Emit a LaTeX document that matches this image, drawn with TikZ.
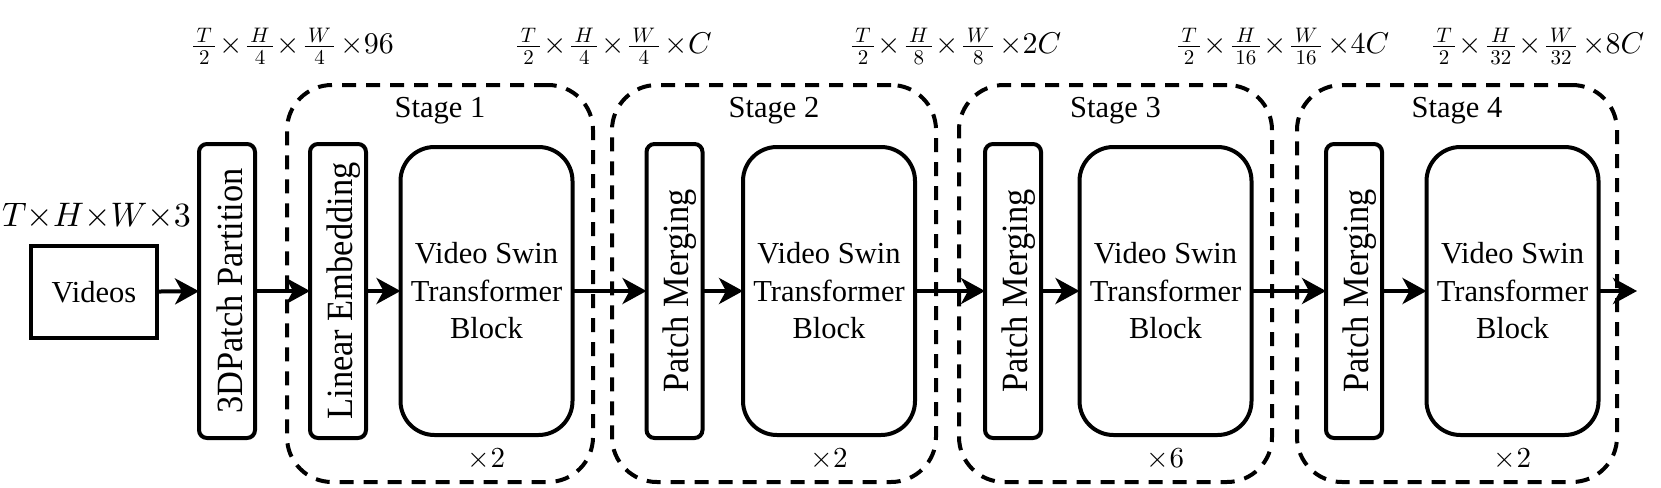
\documentclass[tikz,border=0pt]{standalone}
\usepackage[no-math]{fontspec}
\setmainfont{Liberation Serif}
\DeclareFontShape{OML}{cmm}{m}{it}{<->cmmi10}{}
\DeclareFontShape{OMS}{cmsy}{m}{n}{<->cmsy10}{}
\DeclareFontShape{OT1}{cmr}{m}{n}{<->cmr10}{}
\usetikzlibrary{arrows.meta}
\newcommand\fr[2]{\frac{\,#1\,}{\,#2\,}}
\newcommand\tm{\mskip1.5mu{\times}\mskip2mu}
\newcommand\tl{\mskip3mu{\times}}
\begin{document}
\begin{tikzpicture}[x=1pt,y=-1pt,
 every node/.style={font=\fontsize{30.5}{37.5}\selectfont},
 plain/.style={draw, line width=4pt, inner sep=0pt, outer sep=0pt},
 thinbox/.style={plain, rounded corners=8pt, minimum width=56pt, minimum height=294pt},
 rottext/.style={rotate=90, anchor=base, inner sep=0pt, font=\fontsize{37}{42}\selectfont},
 block/.style={plain, rounded corners=34pt, minimum width=172pt, minimum height=288pt, align=center},
 stagebox/.style={draw, line width=4pt, dash pattern=on 14pt off 10pt, rounded corners=45pt, inner sep=0pt, outer sep=0pt},
 arr/.style={line width=4pt, -{Stealth[length=24pt,width=26pt,inset=7pt]}},
 dimlbl/.style={font=\fontsize{30}{36}\selectfont},
 botlbl/.style={font=\fontsize{29}{34}\selectfont},
]
\useasboundingbox (0,0) rectangle (1661,487);
% stage frames
\node[stagebox, minimum width=306pt, minimum height=397pt] (st1) at (440,283.5) {};
\node[stagebox, minimum width=324pt, minimum height=397pt] (st2) at (774,283.5) {};
\node[stagebox, minimum width=313pt, minimum height=397pt] (st3) at (1115.5,283.5) {};
\node[stagebox, minimum width=320pt, minimum height=397pt] (st4) at (1457,283.5) {};
\node (s1) at (440,111) {Stage 1};
\node (s2) at (774,111) {Stage 2};
\node (s3) at (1115.5,111) {Stage 3};
\node (s4) at (1457,111) {Stage 4};
% blocks
\node[plain, minimum width=126pt, minimum height=92pt] (vid) at (94,292) {Videos};
\node[thinbox] (pp) at (227,291) {};
\node[rottext] (ppt) at ([xshift=15pt]pp.center) {\scalebox{0.93}[1]{3DPatch Partition}};
\node[thinbox] (le) at (338,291) {};
\node[rottext] (let) at ([xshift=14pt]le.center) {\scalebox{0.93}[1]{Linear Embedding}};
\node[block] (b1) at (486.5,291) {Video Swin\\Transformer\\Block};
\node[thinbox] (pm2) at (674.5,291) {};
\node[rottext] (pm2t) at ([xshift=14pt]pm2.center) {\scalebox{0.93}[1]{Patch Merging}};
\node[block] (b2) at (829,291) {Video Swin\\Transformer\\Block};
\node[thinbox] (pm3) at (1013,291) {};
\node[rottext] (pm3t) at ([xshift=14pt]pm3.center) {\scalebox{0.93}[1]{Patch Merging}};
\node[block] (b3) at (1165.5,291) {Video Swin\\Transformer\\Block};
\node[thinbox] (pm4) at (1354,291) {};
\node[rottext] (pm4t) at ([xshift=14pt]pm4.center) {\scalebox{0.93}[1]{Patch Merging}};
\node[block] (b4) at (1512.5,291) {Video Swin\\Transformer\\Block};
\coordinate (out) at (1637,291);
% repeat counts
\node[botlbl] (r1) at (486.5,459) {$\times 2$};
\node[botlbl] (r2) at (829,459) {$\times 2$};
\node[botlbl] (r3) at (1165.5,459) {$\times 6$};
\node[botlbl] (r4) at (1512.5,459) {$\times 2$};
% dims
\node[font=\fontsize{34}{40}\selectfont] (d0) at (96.5,216.5) {$T{\times}H{\times}W{\times}3$};
\node[dimlbl] (d1) at (293,46) {$\fr{T}{2}\tm\fr{H}{4}\tm\fr{W}{4}\tl 96$};
\node[dimlbl] (d2) at (614,46) {$\fr{T}{2}\tm\fr{H}{4}\tm\fr{W}{4}\tl C$};
\node[dimlbl] (d3) at (956,46) {$\fr{T}{2}\tm\fr{H}{8}\tm\fr{W}{8}\tl 2C$};
\node[dimlbl] (d4) at (1283,46) {$\fr{T}{2}\tm\fr{H}{16}\tm\fr{W}{16}\tl 4C$};
\node[dimlbl] (d5) at (1538,46) {$\fr{T}{2}\tm\fr{H}{32}\tm\fr{W}{32}\tl 8C$};
% arrows
\draw[arr] (vid) -- (pp);
\draw[arr] (pp) -- (le);
\draw[arr] (le) -- (b1);
\draw[arr] (b1) -- (pm2);
\draw[arr] (pm2) -- (b2);
\draw[arr] (b2) -- (pm3);
\draw[arr] (pm3) -- (b3);
\draw[arr] (b3) -- (pm4);
\draw[arr] (pm4) -- (b4);
\draw[arr] (b4) -- (out);
\end{tikzpicture}
\end{document}
